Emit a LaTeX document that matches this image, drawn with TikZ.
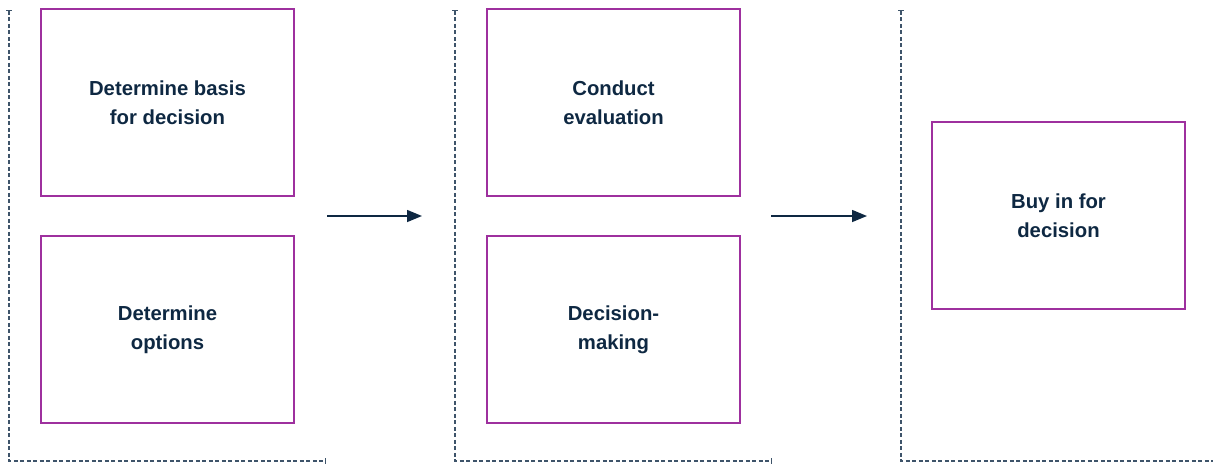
\documentclass[tikz,border=0pt]{standalone}
\usepackage{fontspec}
\setmainfont{Liberation Sans}
\usetikzlibrary{arrows.meta, positioning}
\definecolor{stepnavy}{RGB}{14, 40, 66}
\definecolor{boxpurple}{RGB}{158, 48, 158}
\definecolor{framegray}{RGB}{62, 84, 106}
\tikzset{
    step box/.style={
        rectangle,
        draw=boxpurple,
        line width=1.1pt,
        minimum width=253pt,
        minimum height=187pt,
        align=center,
        text=stepnavy,
        font=\fontsize{20.3}{29}\selectfont\bfseries
    },
    phase frame/.style={
        draw=framegray,
        line width=1.1pt,
        dash pattern=on 4pt off 2.5pt,
        {Bar[width=6pt,line width=1.1pt]}-{Bar[width=6pt,line width=1.1pt]}
    },
    flow arrow/.style={
        -{Triangle[length=15pt,width=12pt]},
        line width=1.5pt,
        draw=stepnavy
    }
}

\begin{document}
\begin{tikzpicture}[x=1pt, y=-1pt]
\useasboundingbox (0,0) rectangle (1213,464);

% Phase frames (left and bottom edges only)
\draw[phase frame] (9,10) -- (9,461) -- (326,461);
\draw[phase frame] (455,10) -- (455,461) -- (772,461);
\draw[phase frame] (901,10) -- (901,461) -- (1216,461);

% Phase 1
\node[step box] (basis) at (167.5,102.5) {Determine basis\\for decision};
\node[step box] (options) at (167.5,329.5) {Determine\\options};

% Phase 2
\node[step box] (evaluation) at (613.5,102.5) {Conduct\\evaluation};
\node[step box] (making) at (613.5,329.5) {Decision-\\making};

% Phase 3
\node[step box] (buyin) at (1058.5,215.5) {Buy in for\\decision};

% Flow between phases
\coordinate (out1) at (327,216);
\coordinate (in2) at (422,216);
\coordinate (out2) at (771,216);
\coordinate (in3) at (867,216);
\draw[flow arrow] (out1) -- (in2);
\draw[flow arrow] (out2) -- (in3);

\end{tikzpicture}
\end{document}
